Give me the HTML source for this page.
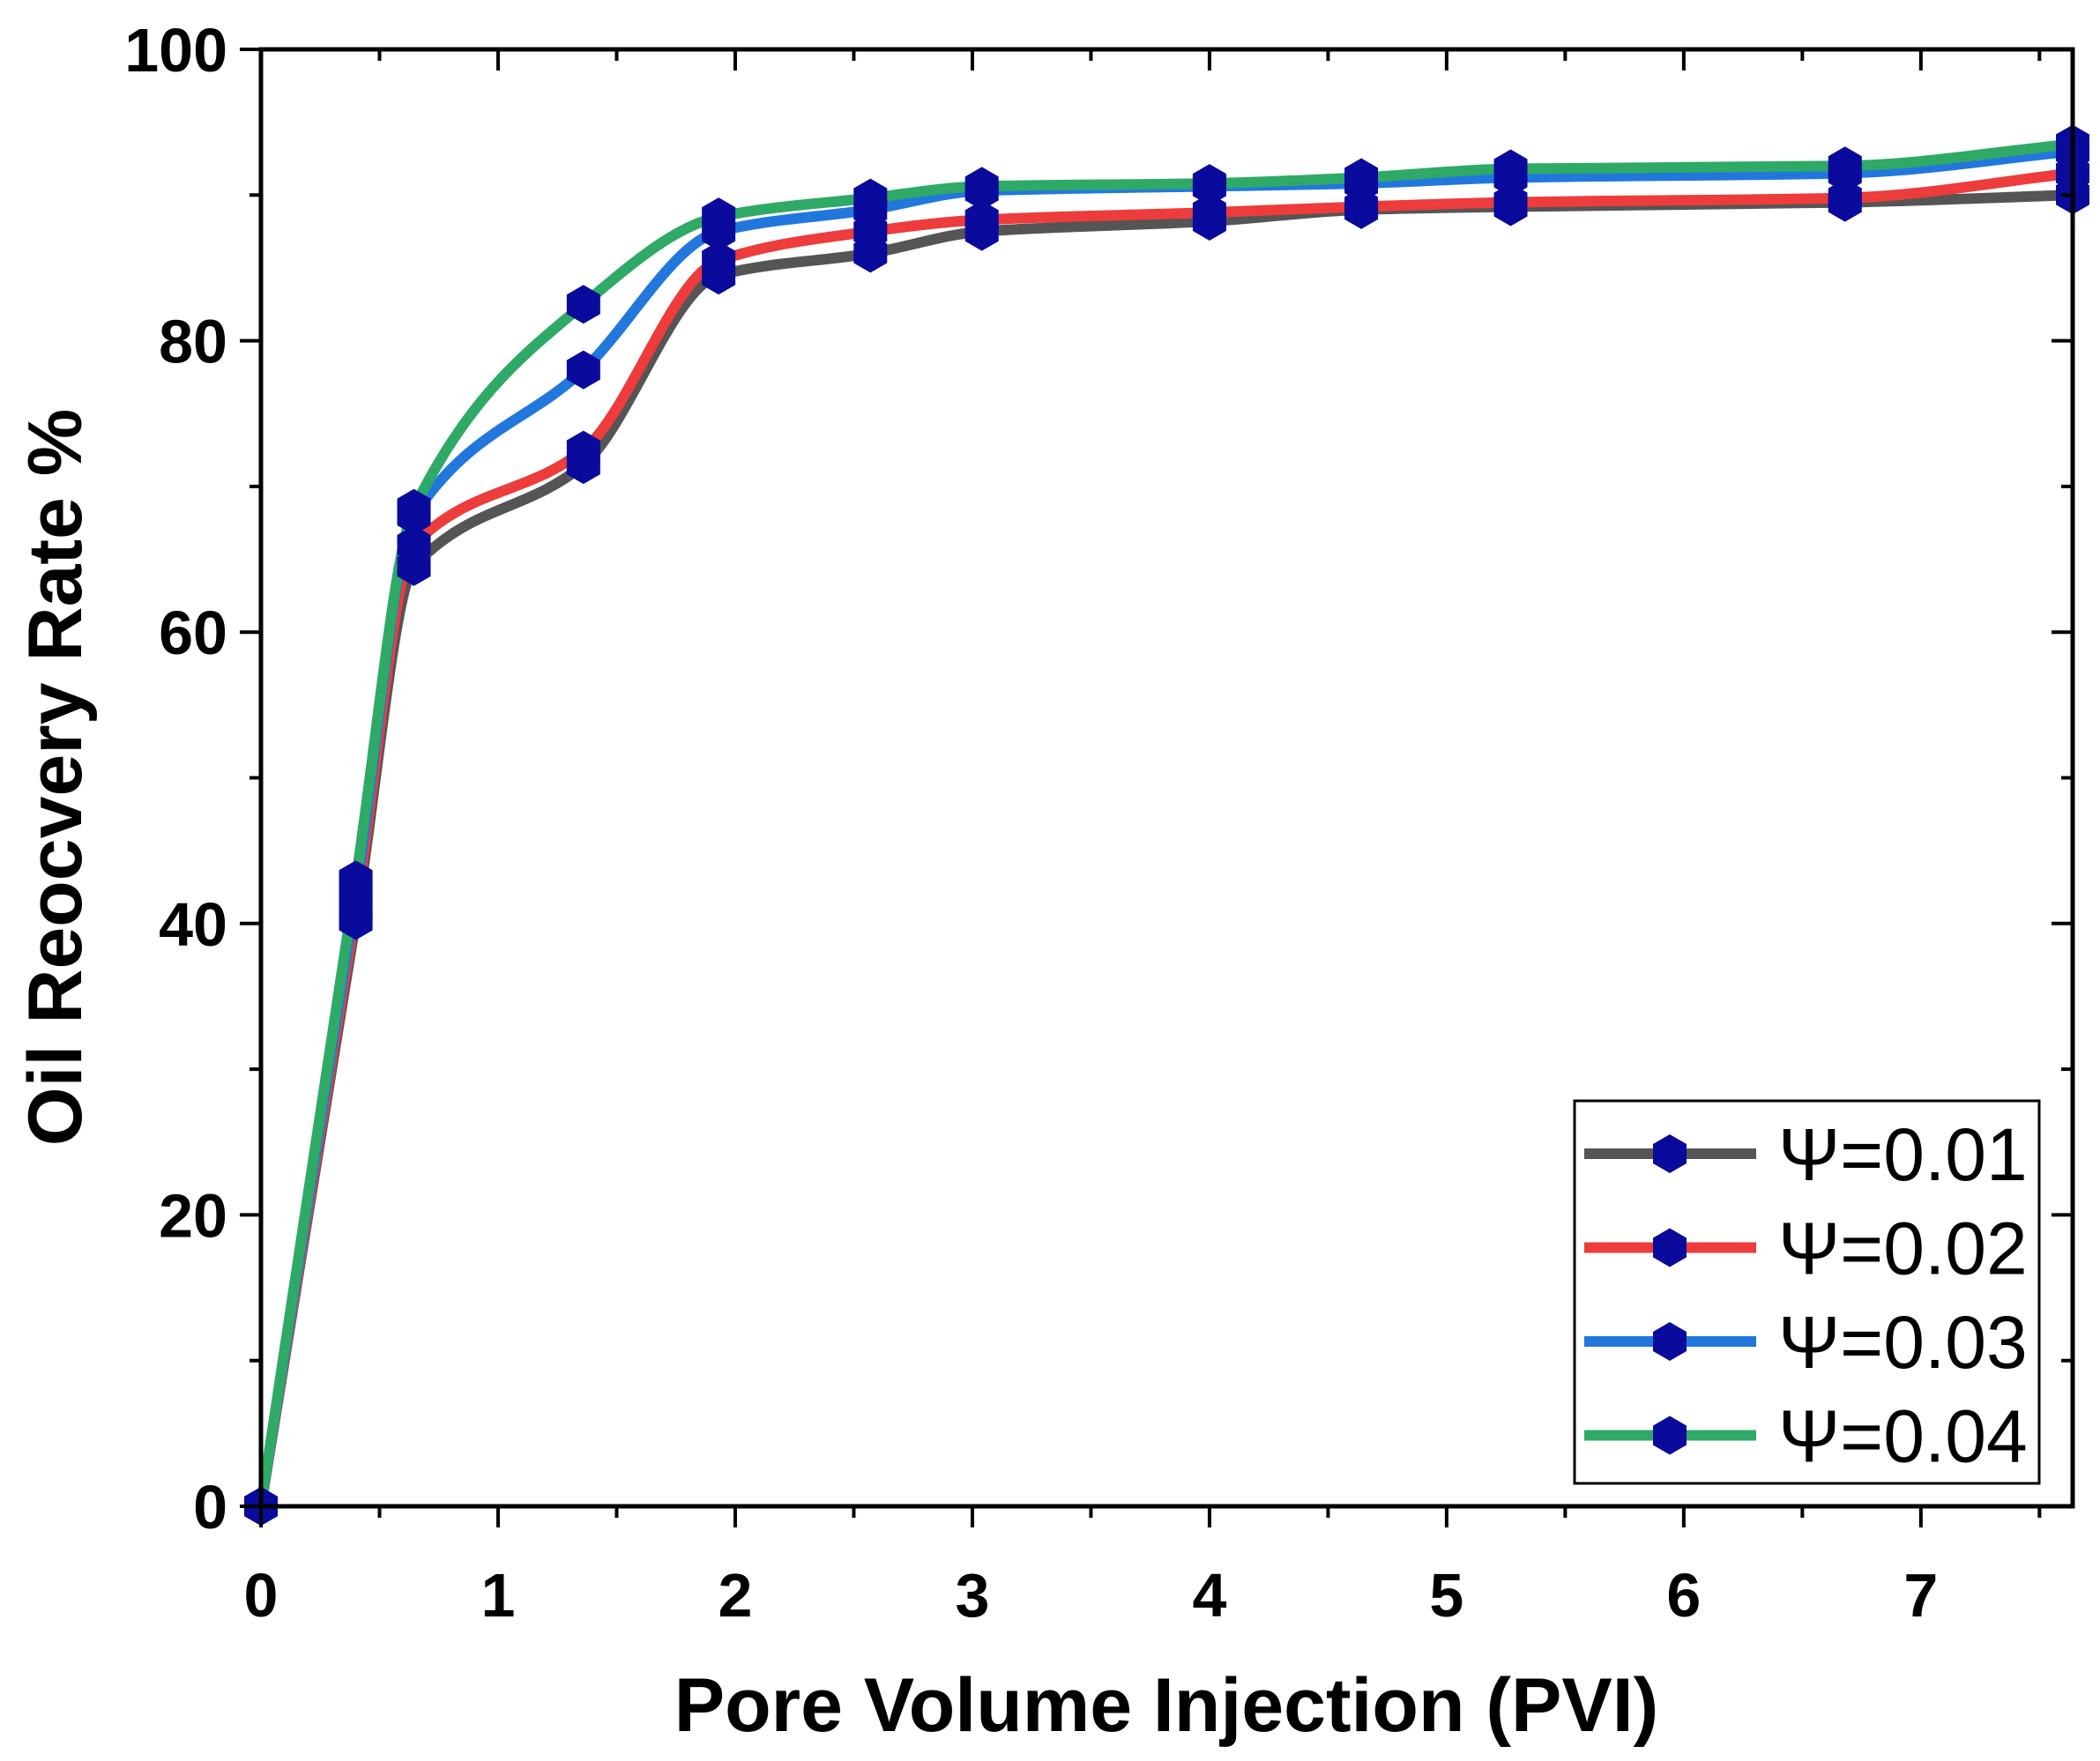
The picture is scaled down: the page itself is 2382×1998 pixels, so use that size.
<!DOCTYPE html>
<html><head><meta charset="utf-8"><style>
html,body{margin:0;padding:0;background:#fff;}
svg{display:block;font-family:"Liberation Sans",sans-serif;}
</style></head><body>
<svg id="chart" width="2382" height="1998" viewBox="0 0 2382 1998" xmlns="http://www.w3.org/2000/svg">
<g id="plot"></g>
</svg>
<script>
const xValues = [0, 0.40, 0.645, 1.36, 1.93, 2.57, 3.04, 4.0, 4.64, 5.27, 6.68, 7.64];
const seriesNames = ["Ψ=0.01", "Ψ=0.02", "Ψ=0.03", "Ψ=0.04"];
const psi001 = [0, 40.2, 64.5, 71.5, 84.5, 86.0, 87.5, 88.2, 89.0, 89.2, 89.5, 90.0];
const psi002 = [0, 41.0, 66.0, 72.5, 85.5, 87.5, 88.3, 88.8, 89.2, 89.5, 89.8, 91.5];
const psi003 = [0, 42.0, 68.0, 78.0, 87.5, 89.0, 90.3, 90.6, 90.8, 91.2, 91.5, 93.0];
const psi004 = [0, 43.0, 68.5, 82.5, 88.5, 89.8, 90.6, 90.8, 91.2, 91.8, 92.0, 93.5];
const xTicks = [0, 1, 2, 3, 4, 5, 6, 7];
const yTicks = [0, 20, 40, 60, 80, 100];

const colors = ["#555555", "#ee3b3b", "#2277dd", "#2eaa66"];
const allSeries = [psi001, psi002, psi003, psi004];
const L = 296, R = 2351, T = 56, B = 1709, XMAX = 7.64, YMAX = 100;
const sx = v => L + v / XMAX * (R - L);
const sy = v => B - v / YMAX * (B - T);
const NS = "http://www.w3.org/2000/svg";
const svg = document.getElementById('chart');
const plot = document.getElementById('plot');
function mk(tag, attrs, parent) {
  const e = document.createElementNS(NS, tag);
  for (const k in attrs) e.setAttribute(k, attrs[k]);
  (parent || svg).appendChild(e);
  return e;
}
function monoPath(xs, ys) {
  const n = xs.length, d = [], m = [];
  for (let i = 0; i < n - 1; i++) d.push((ys[i+1]-ys[i])/(xs[i+1]-xs[i]));
  m[0] = d[0]; m[n-1] = d[n-2];
  for (let i = 1; i < n - 1; i++) m[i] = (d[i-1]*d[i] <= 0) ? 0 : 2/(1/d[i-1]+1/d[i]);
  let p = `M${xs[0]},${ys[0]}`;
  for (let i = 0; i < n - 1; i++) {
    const h = xs[i+1]-xs[i];
    p += ` C${xs[i]+h/3},${ys[i]+m[i]*h/3} ${xs[i+1]-h/3},${ys[i+1]-m[i+1]*h/3} ${xs[i+1]},${ys[i+1]}`;
  }
  return p;
}
function hexPts(cx, cy, w, h) {
  return [[cx, cy-h/2],[cx+w/2, cy-h/4],[cx+w/2, cy+h/4],[cx, cy+h/2],[cx-w/2, cy+h/4],[cx-w/2, cy-h/4]].map(p=>p.join(',')).join(' ');
}
allSeries.forEach((s, si) => {
  const xs = xValues.map(sx), ys = s.map(sy);
  const p = mk('path', {d: monoPath(xs, ys), fill: 'none', stroke: colors[si], 'stroke-width': 12, 'stroke-linejoin': 'round'}, plot);
  
  
});
allSeries.forEach((s, si) => {
  s.forEach((v, i) => {
    const h = mk('polygon', {points: hexPts(sx(xValues[i]), sy(v), 38, 44), fill: '#0a0a9c'}, plot);
    
    
  });
});
const fr = mk('rect', {x: L, y: T, width: R - L, height: B - T, fill: 'none', stroke: '#000', 'stroke-width': 5});


for (let v = 0; v <= XMAX; v += 0.5) {
  const major = Math.abs(v - Math.round(v)) < 1e-9;
  const len = major ? 24 : 13;
  const x = sx(v);
  const t1 = mk('line', {x1: x, y1: B, x2: x, y2: B + len, stroke: '#000', 'stroke-width': 4});
  
  
  const t2 = mk('line', {x1: x, y1: T, x2: x, y2: T + len, stroke: '#000', 'stroke-width': 4});
  
  
}
xTicks.forEach(v => {
  const t = mk('text', {x: sx(v), y: 1834, 'text-anchor': 'middle', 'font-size': 70, 'font-weight': 'bold', fill: '#000'});
  t.textContent = v;
  
  
});
for (let v = 0; v <= YMAX; v += 10) {
  const major = v % 20 === 0;
  const len = major ? 24 : 13;
  const y = sy(v);
  const t1 = mk('line', {x1: L - len, y1: y, x2: L, y2: y, stroke: '#000', 'stroke-width': 4});
  
  
  const t2 = mk('line', {x1: R - len, y1: y, x2: R, y2: y, stroke: '#000', 'stroke-width': 4});
  
  
}
yTicks.forEach(v => {
  const t = mk('text', {x: 258, y: sy(v) + 25, 'text-anchor': 'end', 'font-size': 70, 'font-weight': 'bold', fill: '#000'});
  t.textContent = v;
  
  
});
const xt = mk('text', {x: 1323, y: 1964, 'text-anchor': 'middle', 'font-size': 86, 'font-weight': 'bold', fill: '#000'});
xt.textContent = 'Pore Volume Injection (PVI)';


const yt = mk('text', {x: 0, y: 0, 'text-anchor': 'middle', 'font-size': 86, 'font-weight': 'bold', fill: '#000', transform: 'translate(92,882) rotate(-90)'});
yt.textContent = 'Oil Reocvery Rate %';


const lg = mk('g', {});


mk('rect', {x: 1786, y: 1249, width: 527, height: 434, fill: '#fff', stroke: '#000', 'stroke-width': 3}, lg);
seriesNames.forEach((nm, i) => {
  const y = 1309 + i * 106.5;
  const g = mk('g', {}, lg);
  
  
  mk('line', {x1: 1797, y1: y, x2: 1992, y2: y, stroke: colors[i], 'stroke-width': 12}, g);
  mk('polygon', {points: hexPts(1894, y, 38, 44), fill: '#0a0a9c'}, g);
  const t = mk('text', {x: 2017, y: y + 30, 'font-size': 84, fill: '#000'}, g);
  t.textContent = nm;
});
</script>
</body></html>
